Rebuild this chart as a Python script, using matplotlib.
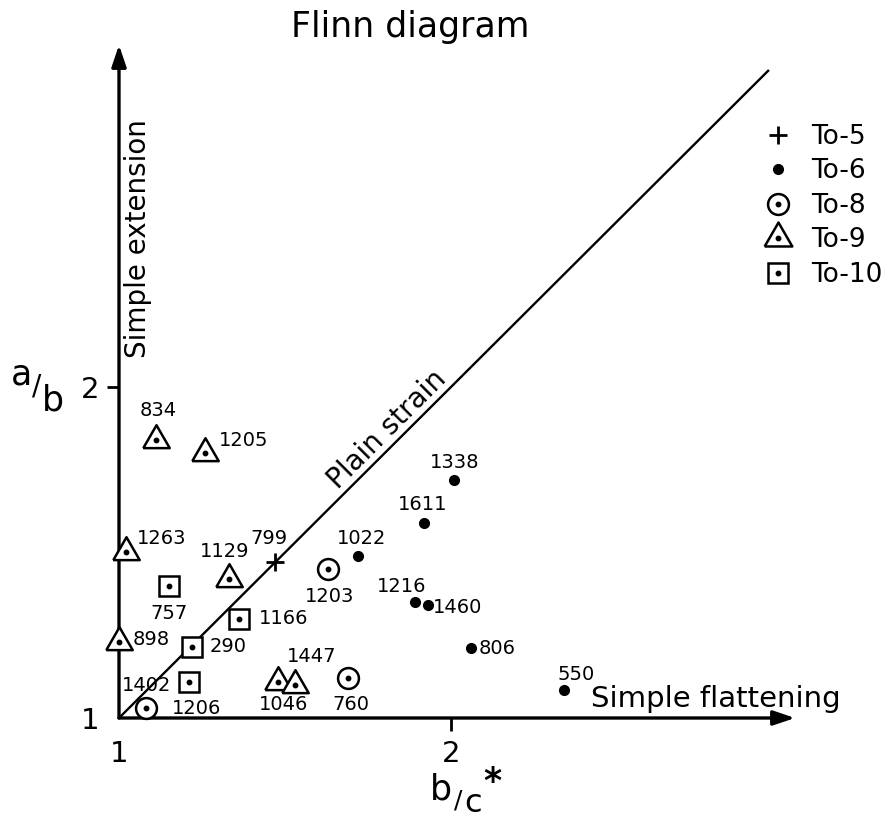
import numpy as np
import matplotlib
matplotlib.use('Agg')
import matplotlib.pyplot as plt
from matplotlib.legend_handler import HandlerTuple
from matplotlib.lines import Line2D

# samples (x = b/c, y = a/b)
to5_names = ['799']
to5_x = [1.47]
to5_y = [1.47]

to6_names = ['1338', '1611', '1022', '1216', '1460', '806', '550']
to6_x = [2.01, 1.92, 1.72, 1.89, 1.93, 2.06, 2.34]
to6_y = [1.72, 1.59, 1.49, 1.35, 1.34, 1.21, 1.085]

to8_names = ['1203', '760', '1206']
to8_x = [1.63, 1.69, 1.08]
to8_y = [1.45, 1.12, 1.03]

to9_names = ['834', '1205', '1263', '1129', '898', '1046', '1447']
to9_x = [1.11, 1.26, 1.02, 1.33, 1.00, 1.48, 1.53]
to9_y = [1.84, 1.80, 1.50, 1.42, 1.23, 1.11, 1.10]

to10_names = ['757', '1166', '290', '1402']
to10_x = [1.15, 1.36, 1.22, 1.21]
to10_y = [1.40, 1.30, 1.215, 1.11]

# label placement: (dx px, dy px, ha)
label_pos = {
    '799': (-6, 24, 'center'), '1338': (0, 17, 'center'), '1611': (-2, 18, 'center'),
    '1022': (4, 17, 'center'), '1216': (-13, 16, 'center'), '1460': (5, -2, 'left'),
    '806': (8, 0, 'left'), '550': (12, 15, 'center'), '1203': (1, -27, 'center'),
    '760': (3, -26, 'center'), '1206': (26, 0, 'left'), '834': (3, 29, 'center'),
    '1205': (14, 13, 'left'), '1263': (11, 14, 'left'), '1129': (-4, 27, 'center'),
    '898': (14, 2, 'left'), '1046': (5, -23, 'center'), '1447': (17, 28, 'center'),
    '757': (0, -28, 'center'), '1166': (20, 0, 'left'), '290': (18, 0, 'left'),
    '1402': (-17, -4, 'right'),
}

plt.rcParams['font.family'] = 'DejaVu Sans'

fig = plt.figure(figsize=(8.88, 8.23), dpi=100)
ax = fig.add_axes([119 / 888, 105 / 823, 676 / 888, 673 / 823])
ax.set_xlim(1, 3.036)
ax.set_ylim(1, 3.033)
for s in ax.spines.values():
    s.set_visible(False)

arrow = dict(arrowstyle='-|>,head_length=0.65,head_width=0.22', lw=2.4,
             color='k', mutation_scale=20, shrinkA=0, shrinkB=0)
ax.annotate('', xy=(0, 1), xytext=(0, 0), xycoords='axes fraction', arrowprops=arrow)
ax.annotate('', xy=(1, 0), xytext=(0, 0), xycoords='axes fraction', arrowprops=arrow)

ax.set_xticks([1, 2])
ax.set_yticks([1, 2])
ax.set_xticklabels(['1', '2'])
ax.set_yticklabels(['1', '2'])
ax.tick_params(axis='both', length=9, width=2, labelsize=21, direction='out')
ax.tick_params(axis='x', pad=7)
ax.tick_params(axis='y', pad=5)
ax.xaxis.get_major_ticks()[0].tick1line.set_visible(False)
ax.yaxis.get_major_ticks()[0].tick1line.set_visible(False)

# plain strain line k = 1
diag = np.array([1.0, 2.955])
ax.plot(diag, diag, color='k', lw=1.7, zorder=1)

# equilateral triangle centred on its centroid
tri = [(-1, -0.577), (1, -0.577), (0, 1.155), (-1, -0.577)]

ms_kw = dict(ls='none', mec='k', mfc='white', mew=1.8, clip_on=False, zorder=3)
dot_kw = dict(ls='none', marker='o', color='k', ms=3.2, clip_on=False, zorder=4)

ax.plot(to5_x, to5_y, ls='none', marker='+', ms=13, mew=2, color='k', zorder=3)
ax.plot(to6_x, to6_y, ls='none', marker='o', ms=7, color='k', zorder=3)
ax.plot(to8_x, to8_y, marker='o', ms=15, **ms_kw)
ax.plot(to8_x, to8_y, **dot_kw)
ax.plot(to9_x, to9_y, marker=tri, ms=22, **ms_kw)
ax.plot(to9_x, to9_y, **dot_kw)
ax.plot(to10_x, to10_y, marker='s', ms=15, **ms_kw)
ax.plot(to10_x, to10_y, **dot_kw)

groups = [(to5_names, to5_x, to5_y), (to6_names, to6_x, to6_y), (to8_names, to8_x, to8_y),
          (to9_names, to9_x, to9_y), (to10_names, to10_x, to10_y)]
for names, xs, ys in groups:
    for n, x, y in zip(names, xs, ys):
        dx, dy, ha = label_pos[n]
        ax.annotate(n, (x, y), xytext=(dx * 0.72, dy * 0.72), textcoords='offset points',
                    ha=ha, va='center', fontsize=14, zorder=5)

ax.text(1.807, 1.870, 'Plain strain', rotation=45, rotation_mode='anchor',
        ha='center', va='center', fontsize=20)
ax.text(1.057, 2.447, 'Simple extension', rotation=90, ha='center', va='center', fontsize=20)
ax.text(2.422, 1.057, 'Simple flattening', ha='left', va='center', fontsize=21)

# axis labels a/b and b/c* written as stacked fraction pieces
fig.text(21 / 888, 1 - 374 / 823, 'a', ha='center', va='center', fontsize=25)
fig.text(37 / 888, 1 - 386 / 823, '/', ha='center', va='center', fontsize=20)
fig.text(53 / 888, 1 - 400 / 823, 'b', ha='center', va='center', fontsize=25)

fig.text(441 / 888, 1 - 790 / 823, 'b', ha='center', va='center', fontsize=25)
fig.text(458 / 888, 1 - 801 / 823, '/', ha='center', va='center', fontsize=18)
fig.text(473 / 888, 1 - 804 / 823, 'c', ha='center', va='center', fontsize=23)
fig.text(492 / 888, 1 - 782 / 823, '*', ha='center', va='center', fontsize=25,
         fontweight='bold')

fig.text(410 / 888, 1 - 27 / 823, 'Flinn diagram', ha='center', va='center', fontsize=25)

dot = Line2D([], [], ls='none', marker='o', color='k', ms=3.2)
handles = [
    Line2D([], [], ls='none', marker='+', ms=13, mew=2, color='k'),
    Line2D([], [], ls='none', marker='o', ms=7, color='k'),
    (Line2D([], [], ls='none', marker='o', ms=15, mec='k', mfc='white', mew=1.8), dot),
    (Line2D([], [], ls='none', marker=tri, ms=23, mec='k', mfc='white', mew=1.8), dot),
    (Line2D([], [], ls='none', marker='s', ms=15, mec='k', mfc='white', mew=1.8), dot),
]
labels = ['To-5', 'To-6', 'To-8', 'To-9', 'To-10']
fig.legend(handles, labels, handler_map={tuple: HandlerTuple(ndivide=1)},
           loc='upper left', bbox_to_anchor=(765 / 888, 1 - 124 / 823),
           frameon=False, fontsize=19, borderpad=0, borderaxespad=0,
           handlelength=1.0, handletextpad=0.75, labelspacing=0.32)

fig.savefig('out.png', dpi=100)
